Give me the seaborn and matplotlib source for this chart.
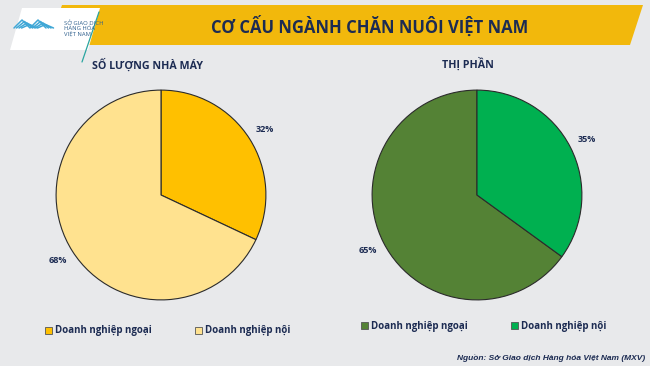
import matplotlib
matplotlib.use("Agg")
import matplotlib.pyplot as plt
from matplotlib.patches import Polygon
import seaborn as sns

# du lieu
title = "CƠ CẤU NGÀNH CHĂN NUÔI VIỆT NAM"
categories = ["Doanh nghiệp ngoại", "Doanh nghiệp nội"]
factory_share = [32, 68]      # Số lượng nhà máy
market_share = [65, 35]       # Thị phần
factory_colors = ["#FFC000", "#FFE28F"]
market_colors = ["#548235", "#00B050"]
source = "Nguồn: Sở Giao dịch Hàng hóa Việt Nam (MXV)"

sns.set_theme(style="white")
plt.rcParams['font.family'] = ['Open Sans', 'DejaVu Sans']
navy = "#1C2B52"

W, H = 650, 366
fig = plt.figure(figsize=(6.5, 3.66), dpi=100)
fig.patch.set_facecolor("#E8E9EB")

def px(x, y):
    return (x / W, 1 - y / H)

# thanh tieu de
bar = Polygon([px(62, 5), px(643, 5), px(630, 45), px(48, 45)], closed=True,
              transform=fig.transFigure, facecolor="#F2B80C", edgecolor="none")
fig.patches.append(bar)
logo = Polygon([px(22, 8), px(100, 8), px(88, 50), px(10, 50)], closed=True,
               transform=fig.transFigure, facecolor="white", edgecolor="none")
fig.patches.append(logo)
fig.add_artist(plt.Line2D([99 / W, 82 / W], [1 - 12 / H, 1 - 62 / H],
                          transform=fig.transFigure, color="#2AA5A0", lw=0.9))
# logo: vai duong zigzag
for k in range(4):
    xs = [14 + k * 2.5, 22 + k * 2.5, 30 + k * 2.5, 38 + k * 2.5, 46 + k * 2.5]
    ys = [28, 20 + k * 1.5, 28, 20 + k * 1.5, 28]
    fig.add_artist(plt.Line2D([x / W for x in xs], [1 - y / H for y in ys],
                              transform=fig.transFigure, color="#3FA7D6", lw=1.1))
fig.text(64 / W, 1 - 28 / H, "SỞ GIAO DỊCH\nHÀNG HÓA\nVIỆT NAM", fontsize=4.2,
         color="#2D5E8C", va="center", ha="left", linespacing=1.0)
fig.text(370 / W, 1 - 26 / H, title, fontsize=12, fontweight="bold",
         color=navy, ha="center", va="center")

def draw_pie(left, values, colors, subtitle, sub_x, sub_y, start, ccw, leg_y, leg_x):
    ax = fig.add_axes([left / W, 1 - 302 / H, 214 / W, 214 / H])
    ax.pie(values, colors=colors, startangle=start, counterclock=ccw,
           autopct="%d%%", pctdistance=1.17,
           wedgeprops=dict(edgecolor="#2B2B2B", linewidth=0.8),
           textprops=dict(fontsize=6.5, fontweight="bold", color=navy))
    ax.set_xlim(-1.02, 1.02)
    ax.set_ylim(-1.02, 1.02)
    ax.set_aspect("equal")
    fig.text(sub_x / W, 1 - sub_y / H, subtitle, fontsize=7.7, fontweight="bold",
             color=navy, ha="center", va="center")
    handles = [plt.Rectangle((0, 0), 1, 1, facecolor=c, edgecolor="#555555", lw=0.6)
               for c in colors]
    fig.legend(handles, categories, loc="center left",
               bbox_to_anchor=(leg_x / W, 1 - leg_y / H), ncol=2, frameon=False,
               handlelength=0.7, handleheight=0.7, handletextpad=0.3,
               columnspacing=4.5, borderaxespad=0, borderpad=0,
               prop=dict(size=7, weight="bold"), labelcolor=navy)

draw_pie(54, factory_share, factory_colors, "SỐ LƯỢNG NHÀ MÁY", 148, 65,
         90, False, 331, 45)
draw_pie(370, market_share, market_colors, "THỊ PHẦN", 468, 64,
         90, True, 326, 361)

fig.text(645 / W, 1 - 358 / H, source, fontsize=6, fontstyle="italic",
         fontweight="bold", color=navy, ha="right", va="center",
         family=["Liberation Sans", "DejaVu Sans"])

fig.savefig("out.png", dpi=100, facecolor=fig.get_facecolor())
